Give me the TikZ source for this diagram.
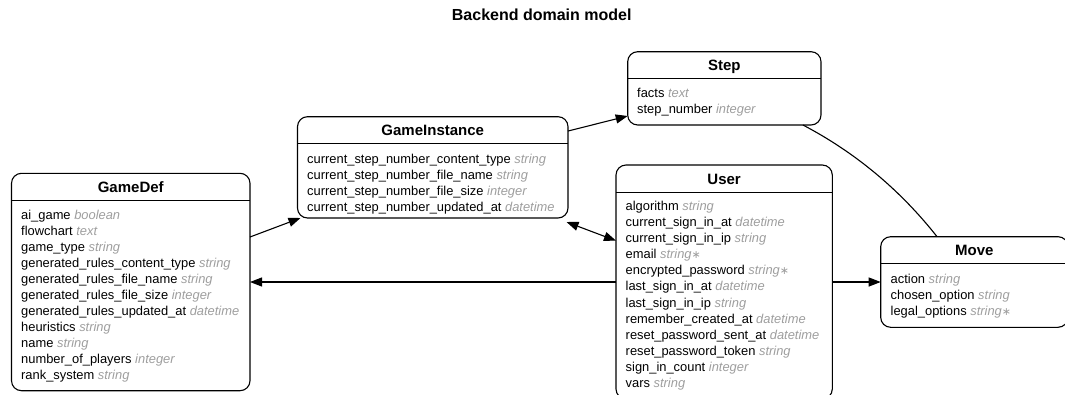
\documentclass[tikz,border=0pt]{standalone}
\usepackage{fontspec}
\setmainfont{Liberation Sans}
\newfontfamily\symfont{DejaVu Sans}
\usetikzlibrary{arrows.meta}
\definecolor{typegray}{RGB}{158,158,158}
\newcommand\ftype[1]{\textcolor{typegray}{\itshape #1}}
\newcommand\fstar{{\upshape\symfont\fontsize{11}{13}\selectfont ∗}}
\begin{document}
\begin{tikzpicture}[x=1pt,y=-1pt,
  entity/.style={draw, line width=1.1pt, rounded corners=10pt, inner sep=0pt,
    outer sep=0pt, anchor=north west},
  rule/.style={line width=1.1pt},
  hdr/.style={font=\bfseries\fontsize{15}{18}\selectfont, anchor=base, inner sep=0pt},
  row/.style={font=\fontsize{12.9}{15}\selectfont, anchor=base west, inner sep=0pt},
  tip/.tip={Triangle[length=12pt,width=9pt]},
  link/.style={line width=1.1pt, -tip},
  biglink/.style={line width=1.1pt, tip-tip},
  plain/.style={line width=1.1pt}]
\useasboundingbox (0,0) rectangle (1065,394);
\clip (0,0) rectangle (1065,394);

\node[font=\bfseries\fontsize{16}{19}\selectfont, anchor=base, inner sep=0pt]
  (title) at (541.7,20) {Backend domain model};

% GameDef
\node[entity, minimum width=238.5pt, minimum height=217.4pt] (gd) at (11.5,173.3) {};
\draw[rule] (gd.west |- 0,200.7) -- (gd.east |- 0,200.7);
\node[hdr] (gdh) at (gd.north |- 0,192.2) {GameDef};
\foreach \n/\t [count=\i from 0] in {
  ai\_game/boolean, flowchart/text, game\_type/string,
  generated\_rules\_content\_type/string, generated\_rules\_file\_name/string,
  generated\_rules\_file\_size/integer, generated\_rules\_updated\_at/datetime,
  heuristics/string, name/string, number\_of\_players/integer, rank\_system/string}
  \node[row] (gd-\i) at (21,219+16.05*\i) {\n{} \ftype{\t}};

% GameInstance
\node[entity, minimum width=270.5pt, minimum height=101.3pt] (gi) at (297.5,116.7) {};
\draw[rule] (gi.west |- 0,143.3) -- (gi.east |- 0,143.3);
\node[hdr] (gih) at (gi.north |- 0,135) {GameInstance};
\foreach \n/\t [count=\i from 0] in {
  current\_step\_number\_content\_type/string, current\_step\_number\_file\_name/string,
  current\_step\_number\_file\_size/integer, current\_step\_number\_updated\_at/datetime}
  \node[row] (gi-\i) at (307,163.3+16.05*\i) {\n{} \ftype{\t}};

% Step
\node[entity, minimum width=193.3pt, minimum height=73.3pt] (st) at (627.7,51.7) {};
\draw[rule] (st.west |- 0,78.3) -- (st.east |- 0,78.3);
\node[hdr] (sth) at (st.north |- 0,70) {Step};
\foreach \n/\t [count=\i from 0] in {facts/text, step\_number/integer}
  \node[row] (st-\i) at (637,97.5+16.3*\i) {\n{} \ftype{\t}};

% User
\node[entity, minimum width=216.3pt, minimum height=234pt] (us) at (616,165) {};
\draw[rule] (us.west |- 0,192.3) -- (us.east |- 0,192.3);
\node[hdr] (ush) at (us.north |- 0,184) {User};
\foreach \n/\t [count=\i from 0] in {
  algorithm/string, current\_sign\_in\_at/datetime, current\_sign\_in\_ip/string,
  email/{string\fstar}, encrypted\_password/{string\fstar}, last\_sign\_in\_at/datetime,
  last\_sign\_in\_ip/string, remember\_created\_at/datetime,
  reset\_password\_sent\_at/datetime, reset\_password\_token/string,
  sign\_in\_count/integer, vars/string}
  \node[row] (us-\i) at (625.5,210.7+16.05*\i) {\n{} \ftype{\t}};

% Move
\node[entity, minimum width=187.3pt, minimum height=90.6pt] (mv) at (880.7,236.7) {};
\draw[rule] (mv.west |- 0,263.3) -- (mv.east |- 0,263.3);
\node[hdr] (mvh) at (mv.north |- 0,255) {Move};
\foreach \n/\t [count=\i from 0] in {action/string, chosen\_option/string,
  legal\_options/{string\fstar}}
  \node[row] (mv-\i) at (890.5,283.3+16.3*\i) {\n{} \ftype{\t}};

% Associations
\draw[link] ([yshift=45pt]gd.east) -- ([xshift=3pt]gi.south west);
\draw[link] (us.west) -- (gd.east);
\draw[biglink] ([xshift=-1.5pt,yshift=-4pt]gi.south east) -- ([yshift=41.3pt]us.west);
\draw[link] ([yshift=36.3pt]gi.east) -- ([yshift=9pt]st.south west);
\draw[plain] ([xshift=78.6pt]st.south) .. controls (855.7,152.7) and (900.3,190.1)
  .. ([xshift=-37.3pt]mv.north);
\draw[link] (us.east) -- (mv.west);
\end{tikzpicture}
\end{document}
